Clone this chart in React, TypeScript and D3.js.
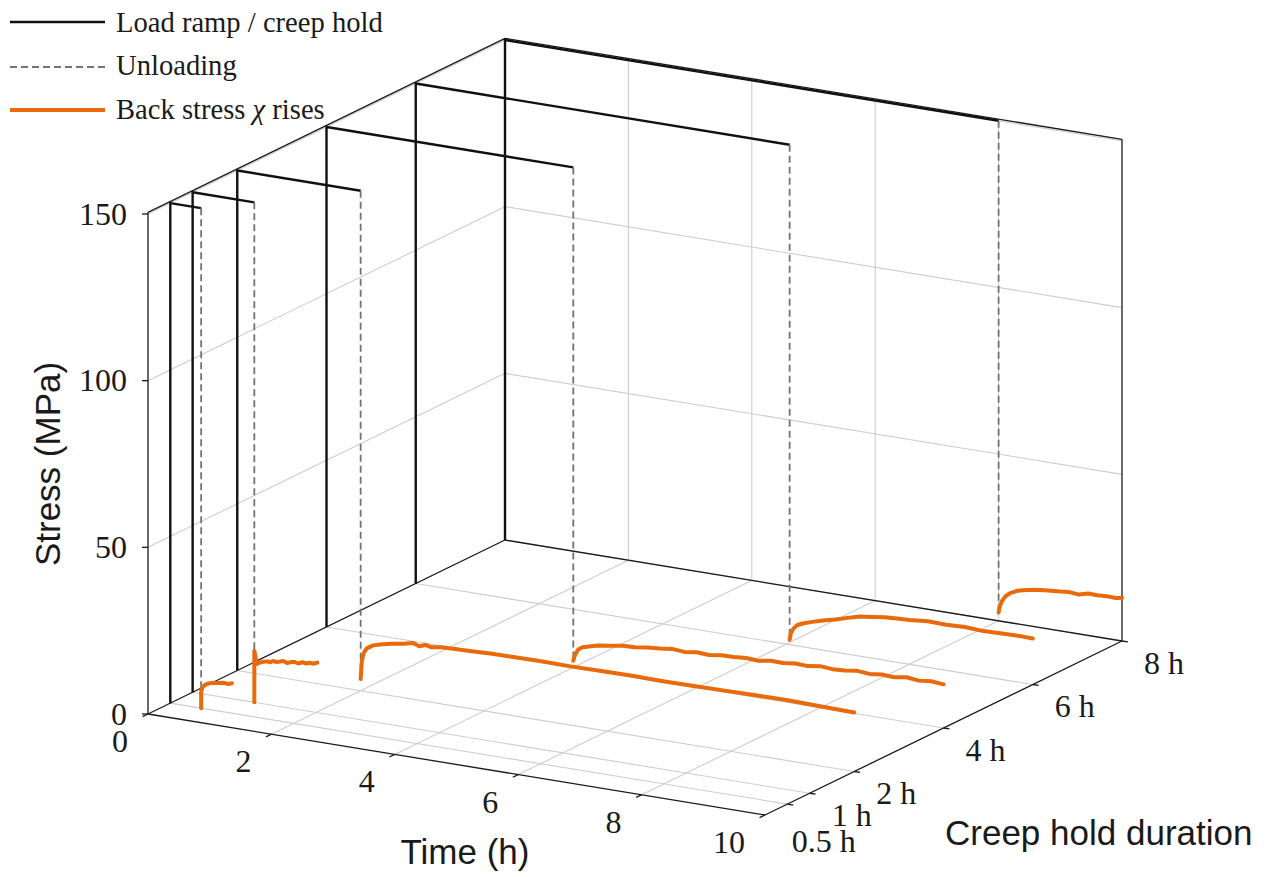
import React from "react";
import * as d3 from "d3";

// ---------- data ----------
const holdHours = [0.5, 1, 2, 4, 6, 8];
const holdLabels = ["0.5 h", "1 h", "2 h", "4 h", "6 h", "8 h"];
const unloadTimes = [0.5, 1, 2, 4, 6.06, 8];
const peakStress = [150, 150, 150, 150, 150, 150];
const timeTicks = [0, 2, 4, 6, 8, 10];
const stressTicks = [0, 50, 100, 150];

// back stress (recovery) curves, time (h) and stress (MPa)
const back05T = [0.5, 0.5, 0.52, 0.56, 0.62, 0.7, 0.78, 0.86, 0.94, 1.0];
const back05Z = [0, 5.0, 6.3, 7.2, 7.8, 8.2, 8.4, 8.7, 8.6, 9.0];

const back1T = [1.0, 1.0, 1.04, 1.08, 1.14, 1.2, 1.26, 1.3, 1.36, 1.42, 1.47, 1.53, 1.6, 1.66, 1.71, 1.78, 1.84, 1.9, 1.96, 2.02];
const back1Z = [0, 15.5, 11.6, 12.1, 12.6, 12.9, 12.8, 13.3, 13.2, 13.5, 13.8, 13.4, 13.9, 14.1, 13.8, 14.4, 14.2, 14.6, 14.5, 15.0];

const back2T = [2.0, 2.02, 2.05, 2.1, 2.2, 2.35, 2.5, 2.7, 2.85, 2.95, 3.05, 3.15, 3.3, 3.5, 3.8, 4.1, 4.5, 4.9, 5.4, 5.9, 6.4, 6.9, 7.4, 7.9, 8.4, 8.9, 9.4, 10.0];
const back2Z = [3.5, 9.0, 11.5, 13.0, 14.2, 15.0, 15.6, 16.2, 16.9, 16.2, 16.9, 16.5, 17.0, 17.1, 17.3, 17.5, 17.6, 17.7, 17.6, 17.7, 17.8, 17.7, 17.8, 17.9, 18.0, 18.1, 17.9, 17.7];

const back4T = [4.0, 4.03, 4.08, 4.15, 4.25, 4.4, 4.6, 4.8, 5.0, 5.2, 5.4, 5.6, 5.8, 6.0, 6.2, 6.4, 6.6, 6.8, 7.0, 7.2, 7.4, 7.6, 7.8, 8.0, 8.2, 8.4, 8.6, 8.8, 9.0, 9.2, 9.4, 9.6, 9.8, 10.0];
const back4Z = [2.0, 4.0, 5.6, 6.5, 7.0, 7.8, 8.3, 8.9, 9.1, 9.6, 9.9, 10.4, 10.1, 10.6, 10.4, 10.9, 11.0, 11.3, 11.1, 11.7, 11.6, 12.1, 11.9, 12.5, 12.2, 12.4, 12.9, 12.6, 13.0, 12.8, 13.4, 13.0, 13.4, 13.1];

const back6T = [6.06, 6.08, 6.12, 6.18, 6.27, 6.4, 6.6, 6.8, 7.0, 7.2, 7.4, 7.6, 7.8, 8.0, 8.3, 8.6, 8.9, 9.2, 9.5, 9.8, 10.0];
const back6Z = [1.5, 3.5, 5.0, 6.2, 7.0, 7.8, 8.9, 9.8, 10.9, 11.9, 12.4, 12.9, 13.1, 13.3, 13.8, 13.7, 13.9, 13.6, 13.8, 13.9, 13.8];

const back8T = [8.0, 8.02, 8.06, 8.12, 8.2, 8.3, 8.45, 8.6, 8.8, 9.0, 9.15, 9.3, 9.45, 9.6, 9.75, 9.9, 10.0];
const back8Z = [2.5, 4.5, 6.3, 7.9, 9.0, 9.9, 10.6, 11.1, 11.5, 11.8, 12.1, 11.8, 12.6, 12.5, 12.7, 12.6, 13.0];

const backT = [back05T, back1T, back2T, back4T, back6T, back8T];
const backZ = [back05Z, back1Z, back2Z, back4Z, back6Z, back8Z];

// ---------- geometry ----------
const W = 1267;
const H = 877;
const ORIGIN = [148, 714];
const TVEC = [617, 101];
const DVEC = [357, -174];
const Z_MAX = 150.5;

const tScale = d3.scaleLinear().domain([0, 10]).range([0, 1]);
const dScale = d3.scaleLinear().domain([0, 8]).range([0, 1]);
const zScale = d3.scaleLinear().domain([0, 150]).range([0, 500]);

type P3 = [number, number, number]; // t, hold, z
function proj(p: P3): [number, number] {
  const a = tScale(p[0]);
  const b = dScale(p[1]);
  return [
    ORIGIN[0] + a * TVEC[0] + b * DVEC[0],
    ORIGIN[1] + a * TVEC[1] + b * DVEC[1] - zScale(p[2]),
  ];
}
const line3 = d3
  .line<P3>()
  .x((p) => proj(p)[0])
  .y((p) => proj(p)[1]);

const GRID = "#cdcdcd";
const AXIS = "#1a1a1a";
const TEXT = "#1a1a1a";
const ORANGE = "#e86a0a";
const DASH = "#737373";
const SERIF = "'Liberation Serif', 'Times New Roman', serif";
const SANS = "'Liberation Sans', Arial, sans-serif";
const TICK_FS = 32;
const LEG_FS = 28.6;
const TITLE_FS = 35;

export default function App() {
  const dMax = 8;
  const grid: P3[][] = [];
  // floor grid
  timeTicks.slice(1, -1).forEach((t) => grid.push([[t, 0, 0], [t, dMax, 0]]));
  holdHours.forEach((h) => grid.push([[0, h, 0], [10, h, 0]]));
  // back wall
  timeTicks.slice(1, -1).forEach((t) => grid.push([[t, dMax, 0], [t, dMax, Z_MAX]]));
  stressTicks.slice(1).forEach((z) => grid.push([[0, dMax, z], [10, dMax, z]]));
  // left wall
  stressTicks.slice(1).forEach((z) => grid.push([[0, 0, z], [0, dMax, z]]));
  holdHours.forEach((h) => grid.push([[0, h, 0], [0, h, Z_MAX]]));

  const edges: P3[][] = [
    [[0, 0, 0], [0, 0, Z_MAX]],
    [[0, dMax, 0], [0, dMax, Z_MAX]],
    [[10, dMax, 0], [10, dMax, Z_MAX]],
    [[0, 0, Z_MAX], [0, dMax, Z_MAX]],
    [[0, dMax, Z_MAX], [10, dMax, Z_MAX]],
    [[0, 0, 0], [10, 0, 0]],
    [[10, 0, 0], [10, dMax, 0]],
    [[0, 0, 0], [0, dMax, 0]],
    [[0, dMax, 0], [10, dMax, 0]],
  ];

  const dUnit = [-DVEC[0], -DVEC[1]];
  const dLen = Math.hypot(dUnit[0], dUnit[1]);
  const tLen = Math.hypot(TVEC[0], TVEC[1]);

  return (
    <svg
      width={W}
      height={H}
      viewBox={`0 0 ${W} ${H}`}
      style={{ position: "absolute", left: 0, top: 0, background: "#fff" }}
    >
      <rect x={0} y={0} width={W} height={H} fill="#fff" />
      {/* grid */}
      {grid.map((g, i) => (
        <path key={"g" + i} d={line3(g) || ""} stroke={GRID} strokeWidth={1.1} fill="none" />
      ))}
      {/* box edges */}
      {edges.map((e, i) => (
        <path key={"e" + i} d={line3(e) || ""} stroke={AXIS} strokeWidth={1.3} fill="none" />
      ))}
      {/* stress ticks */}
      {stressTicks.map((z) => {
        const [x, y] = proj([0, 0, z]);
        return (
          <g key={"zt" + z}>
            <line x1={x - 6} y1={y} x2={x} y2={y} stroke={AXIS} strokeWidth={1.3} />
            <text x={x - 21} y={y + 10.5} textAnchor="end" fontFamily={SERIF} fontSize={TICK_FS} fill={TEXT}>
              {z}
            </text>
          </g>
        );
      })}
      {/* time ticks */}
      {timeTicks.map((t) => {
        const [x, y] = proj([t, 0, 0]);
        return (
          <g key={"tt" + t}>
            <line
              x1={x}
              y1={y}
              x2={x + (dUnit[0] / dLen) * 6}
              y2={y + (dUnit[1] / dLen) * 6}
              stroke={AXIS}
              strokeWidth={1.3}
            />
            <text x={x - 20} y={y + 38} textAnchor="end" fontFamily={SERIF} fontSize={TICK_FS} fill={TEXT}>
              {t}
            </text>
          </g>
        );
      })}
      {/* hold ticks */}
      {holdHours.map((h, i) => {
        const [x, y] = proj([10, h, 0]);
        const nudge = i === 0 ? [-17.5, 15] : [0, 0];
        return (
          <g key={"ht" + h}>
            <line
              x1={x}
              y1={y}
              x2={x + (TVEC[0] / tLen) * 6}
              y2={y + (TVEC[1] / tLen) * 6}
              stroke={AXIS}
              strokeWidth={1.3}
            />
            <text
              x={x + 22 + nudge[0]}
              y={y + 32.5 + nudge[1]}
              textAnchor="start"
              fontFamily={SERIF}
              fontSize={TICK_FS}
              fill={TEXT}
            >
              {holdLabels[i]}
            </text>
          </g>
        );
      })}
      {/* axis titles */}
      <text
        transform="translate(60,464) rotate(-90)"
        textAnchor="middle"
        fontFamily={SANS}
        fontSize={TITLE_FS}
        fill={TEXT}
      >
        Stress (MPa)
      </text>
      <text x={465} y={864} textAnchor="middle" fontFamily={SANS} fontSize={TITLE_FS} fill={TEXT}>
        Time (h)
      </text>
      <text x={945} y={845} textAnchor="start" fontFamily={SANS} fontSize={TITLE_FS} fill={TEXT}>
        Creep hold duration
      </text>
      {/* data: load ramp / hold */}
      {holdHours.map((h, i) => {
        const pts: P3[] = [
          [0, h, 0],
          [0, h, peakStress[i]],
          [unloadTimes[i], h, peakStress[i]],
        ];
        return (
          <path key={"lh" + h} d={line3(pts) || ""} stroke="#111" strokeWidth={2.4} fill="none" strokeLinejoin="miter" />
        );
      })}
      {/* unloading */}
      {holdHours.map((h, i) => {
        const pts: P3[] = [
          [unloadTimes[i], h, peakStress[i]],
          [unloadTimes[i], h, backZ[i][0]],
        ];
        return (
          <path key={"ul" + h} d={line3(pts) || ""} stroke={DASH} strokeWidth={1.8} strokeDasharray="7 4" fill="none" />
        );
      })}
      {/* back stress */}
      {holdHours.map((h, i) => {
        const pts: P3[] = backT[i].map((t, k) => [t, h, backZ[i][k]] as P3);
        return (
          <path
            key={"bs" + h}
            d={line3(pts) || ""}
            stroke={ORANGE}
            strokeWidth={4}
            fill="none"
            strokeLinejoin="round"
            strokeLinecap="round"
          />
        );
      })}
      {/* legend */}
      <line x1={10} y1={22} x2={105} y2={22} stroke="#111" strokeWidth={2.4} />
      <text x={116} y={32} fontFamily={SERIF} fontSize={LEG_FS} fill={TEXT}>
        Load ramp / creep hold
      </text>
      <line x1={10} y1={67} x2={105} y2={67} stroke={DASH} strokeWidth={1.8} strokeDasharray="7 4" />
      <text x={116} y={75} fontFamily={SERIF} fontSize={LEG_FS} fill={TEXT}>
        Unloading
      </text>
      <line x1={10} y1={110} x2={105} y2={110} stroke={ORANGE} strokeWidth={4} />
      <text x={116} y={119} fontFamily={SERIF} fontSize={LEG_FS} fill={TEXT}>
        Back stress <tspan fontStyle="italic">χ</tspan> rises
      </text>
    </svg>
  );
}
